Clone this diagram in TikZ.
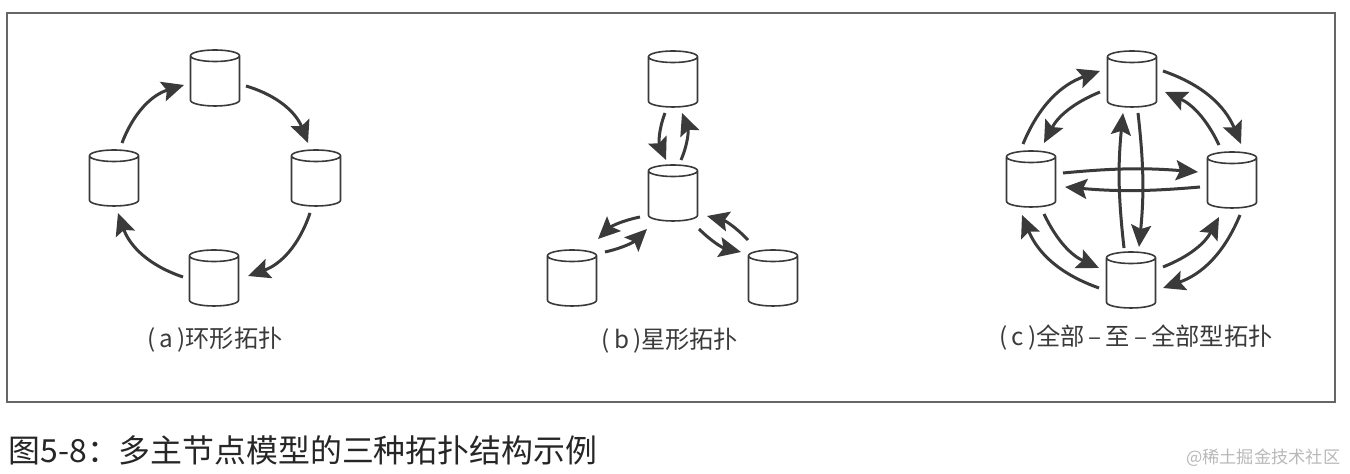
\documentclass[tikz,border=0pt]{standalone}
\usepackage{fontspec}
\setmainfont{Noto Sans CJK SC}
\usepackage{xcolor}
\usetikzlibrary{arrows.meta,shapes.geometric}
\definecolor{inkgray}{HTML}{3A3A3A}
\tikzset{
  dbnode/.style={cylinder, shape border rotate=90, shape aspect=0.24, anchor=shape center, draw=inkgray, fill=white, line width=0.16mm, minimum width=4.9mm, minimum height=5.6mm, inner xsep=2.4mm, inner ysep=1mm, outer sep=0pt},
  flow/.style={draw=inkgray, line width=0.3mm, -{Stealth[length=2.2mm,width=2mm,inset=0.4mm]}},
  caption/.style={font=\fontsize{6.9pt}{8pt}\selectfont, text=inkgray}
}
\begin{document}
\begin{tikzpicture}[x=0.1mm, y=-0.1mm]
\useasboundingbox (0,0) rectangle (1350,474);
\node[draw=black!60, line width=0.13mm, minimum width=132.8mm, minimum height=38.9mm, inner sep=0pt] (frame) at (671,207.5) {};

% (a) ring
\node[dbnode] (ringtop) at (215,78) {};
\node[dbnode] (ringright) at (316,178) {};
\node[dbnode] (ringbottom) at (214,278) {};
\node[dbnode] (ringleft) at (114,178) {};
\draw[flow] ([shift={(8,-35)}]ringleft.shape center) to[bend left=26] ([shift={(-31,7)}]ringtop.shape center);
\draw[flow] ([shift={(31,8)}]ringtop.shape center) to[bend left=26] ([shift={(-8,-35)}]ringright.shape center);
\draw[flow] ([shift={(-6,35)}]ringright.shape center) to[bend left=26] ([shift={(34,-2)}]ringbottom.shape center);
\draw[flow] ([shift={(-31,-1)}]ringbottom.shape center) to[bend left=26] ([shift={(4,35)}]ringleft.shape center);
\node[caption] (ringlabel) at (215,340) {(\,a\,)环形拓扑};

% (b) star
\node[dbnode] (startop) at (673,79) {};
\node[dbnode] (starhub) at (673,193) {};
\node[dbnode] (starleft) at (572,278) {};
\node[dbnode] (starright) at (773,278) {};
\draw[flow] ([shift={(-8,34)}]startop.shape center) to[bend right=22] ([shift={(-7,-33)}]starhub.shape center);
\draw[flow] ([shift={(8,-33)}]starhub.shape center) to[bend right=22] ([shift={(9,34)}]startop.shape center);
\draw[flow] ([shift={(-33,24)}]starhub.shape center) to[bend right=16] ([shift={(26,-39)}]starleft.shape center);
\draw[flow] ([shift={(33,-26)}]starleft.shape center) to[bend right=16] ([shift={(-26,36)}]starhub.shape center);
\draw[flow] ([shift={(-25,-38)}]starright.shape center) to[bend right=16] ([shift={(34,23)}]starhub.shape center);
\draw[flow] ([shift={(26,36)}]starhub.shape center) to[bend right=16] ([shift={(-32,-26)}]starright.shape center);
\node[caption] (starlabel) at (670,341) {(\,b\,)星形拓扑};

% (c) all-to-all
\node[dbnode] (alltop) at (1132,79) {};
\node[dbnode] (allright) at (1232,180) {};
\node[dbnode] (allbottom) at (1131,280) {};
\node[dbnode] (allleft) at (1031,179) {};
\draw[flow] ([shift={(-8,-35)}]allleft.shape center) to[bend left=24] ([shift={(-32,-8)}]alltop.shape center);
\draw[flow] ([shift={(-32,13)}]alltop.shape center) to[bend right=20] ([shift={(13,-36)}]allleft.shape center);
\draw[flow] ([shift={(31,-8)}]alltop.shape center) to[bend left=24] ([shift={(9,-36)}]allright.shape center);
\draw[flow] ([shift={(-13,-35)}]allright.shape center) to[bend right=20] ([shift={(33,13)}]alltop.shape center);
\draw[flow] ([shift={(13,35)}]allleft.shape center) to[bend right=20] ([shift={(-32,-12)}]allbottom.shape center);
\draw[flow] ([shift={(-32,8)}]allbottom.shape center) to[bend left=24] ([shift={(-9,36)}]allleft.shape center);
\draw[flow] ([shift={(32,-13)}]allbottom.shape center) to[bend right=20] ([shift={(-13,37)}]allright.shape center);
\draw[flow] ([shift={(8,35)}]allright.shape center) to[bend left=24] ([shift={(32,8)}]allbottom.shape center);
\draw[flow] ([shift={(-7,-32)}]allbottom.shape center) to[bend left=6] ([shift={(-9,34)}]alltop.shape center);
\draw[flow] ([shift={(6,34)}]alltop.shape center) to[bend left=6] ([shift={(8,-33)}]allbottom.shape center);
\draw[flow] ([shift={(32,-6)}]allleft.shape center) to[bend left=5] ([shift={(-34,-8)}]allright.shape center);
\draw[flow] ([shift={(-32,7)}]allright.shape center) to[bend left=5] ([shift={(34,8)}]allleft.shape center);
\node[caption] (alllabel) at (1136,338) {(\,c\,)全部\,–\,至\,–\,全部型拓扑};

\node[anchor=west, inner sep=0pt, font=\fontsize{9.07pt}{11pt}\selectfont, text=black!85] (title) at (8,450) {图5-8：多主节点模型的三种拓扑结构示例};
\node[anchor=east, inner sep=0pt, font=\fontsize{4.9pt}{6pt}\selectfont, text=black!28] (mark) at (1341,458) {@稀土掘金技术社区};
\end{tikzpicture}
\end{document}
